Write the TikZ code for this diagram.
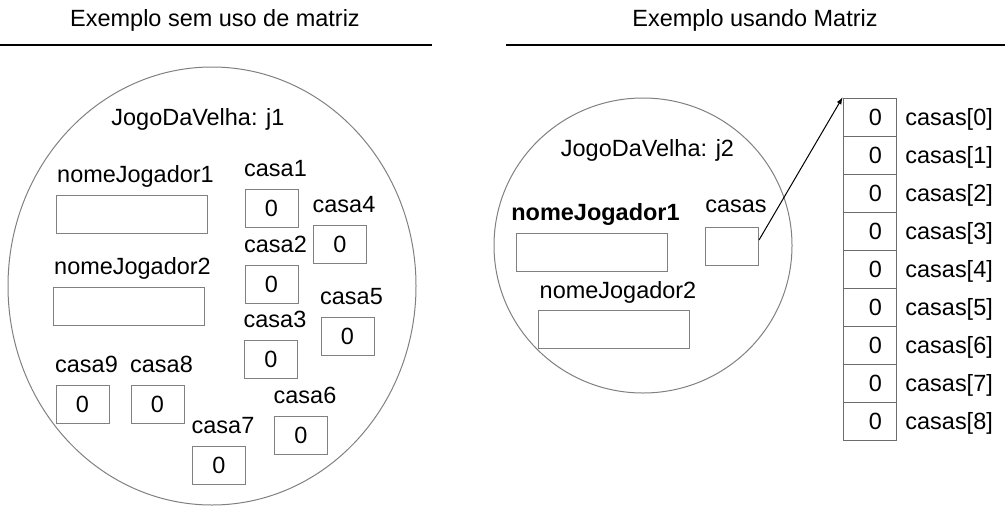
\documentclass[tikz,border=0pt]{standalone}
\usepackage{fontspec}
\setmainfont{Liberation Sans}
\usetikzlibrary{shapes,arrows,positioning}
\newcommand{\txt}{\fontsize{17.6}{21}\selectfont}
\tikzstyle{objeto}=[ellipse,draw=gray,line width=0.75pt,inner sep=0pt]
\tikzstyle{casa}=[rectangle,draw=gray,line width=0.75pt,minimum width=39.75pt,minimum height=28.5pt,inner sep=0pt,font=\txt]
\tikzstyle{nome}=[rectangle,draw=gray,line width=0.75pt,minimum width=113.25pt,minimum height=28.5pt,inner sep=0pt]
\tikzstyle{celula}=[casa,draw=gray!85!black]
\tikzstyle{rotulo}=[inner sep=0pt,text depth=0pt,xshift=3pt,font=\txt]
\tikzstyle{titulo}=[inner sep=0pt,anchor=base,font=\txt]
\tikzstyle{arr}=[-latex,line width=0.75pt]

\begin{document}
\begin{tikzpicture}[x=0.75pt,y=-0.75pt]
\useasboundingbox (0,0) rectangle (1005,507);
% titulos
\node (t1) [titulo] at (215,26) {Exemplo sem uso de matriz};
\node (t2) [titulo] at (755,26) {Exemplo usando Matriz};
\draw [line width=1.5pt] (0,45) -- (432,45);
\draw [line width=1.5pt] (506,45) -- (1005,45);

% objeto j1
\node (j1) [objeto, minimum width=306pt, minimum height=328.5pt] at (212,286) {};
\node (j1t) [titulo] at (198,125) {JogoDaVelha: j1};
\node (n1) [nome] at (131.5,214) {};
\node (n2) [nome] at (128.5,306.5) {};
\node (n1l) [rotulo, above=9pt of n1] {nomeJogador1};
\node (n2l) [rotulo, above=9pt of n2] {nomeJogador2};
\foreach \i/\x/\y in {1/271.5/208, 2/271.5/284, 3/271/359.5, 4/340/244.5, 5/347.5/336,
                      6/301/435.5, 7/219/465.5, 8/157.5/404, 9/82.5/404} {
  \node (c\i) [casa] at (\x,\y) {0};
  \node (c\i l) [rotulo, above=9pt of c\i] {casa\i};
}

% objeto j2
\node (j2) [objeto, minimum width=223.5pt, minimum height=221.25pt] at (643,245.5) {};
\node (j2t) [titulo] at (647.5,156) {JogoDaVelha: j2};
\node (m1) [nome] at (591.5,252) {};
\node (m2) [nome] at (614,329) {};
\node (cs) [casa] at (732,246) {};
\node (m1l) [rotulo, above=8.5pt of m1] {\bfseries nomeJogador1};
\node (m2l) [rotulo, above=8pt of m2] {nomeJogador2};
\node (csl) [rotulo, above=10pt of cs] {casas};

% matriz casas
\foreach \i in {0,...,8} {
  \node (cell\i) [celula] at (869.5,117+38*\i) {\hspace*{9pt}0};
  \node (cell\i l) [rotulo, right=3.5pt of cell\i] {casas[\i]};
}
\draw [arr] ([yshift=4.5pt]cs.east) -- (cell0.north west);
\end{tikzpicture}
\end{document}
